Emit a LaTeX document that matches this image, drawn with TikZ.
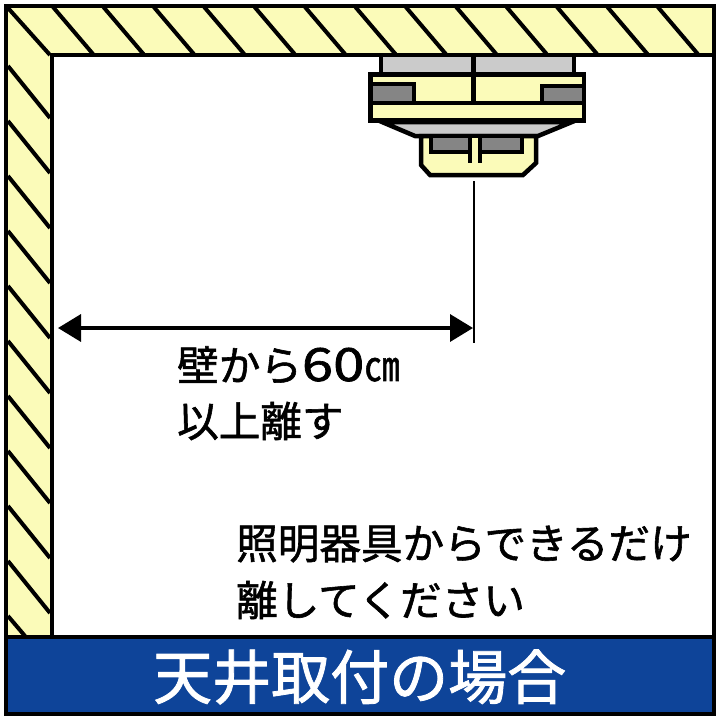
\documentclass[tikz,border=0pt]{standalone}
\usepackage{fontspec}
\usetikzlibrary{arrows.meta}
\newfontfamily\jpfont[AutoFakeBold=1.4]{Noto Sans CJK JP}
\definecolor{wallyellow}{HTML}{FBFBB9}
\definecolor{bandblue}{HTML}{0E4499}
\definecolor{partgray}{HTML}{CBCBCB}
\definecolor{darkgray}{HTML}{858585}
\tikzset{
 part/.style={draw=black,line width=4.5pt,line join=miter},
 hatch/.style={draw=black,line width=4pt},
 label/.style={anchor=west,inner sep=0pt,font=\jpfont\bfseries\fontsize{41.6}{41.6}\selectfont},
}
\begin{document}
\begin{tikzpicture}[x=1pt,y=-1pt]
 \useasboundingbox (0,0) rectangle (720,720);
 \fill[white](0,0) rectangle (720,720);
 \draw[part,fill=wallyellow](6,637)--(6,6)--(714,6)--(714,55)--(52,55)--(52,637);
 \foreach \x in {0,...,12}
  \draw[hatch](53+50.4*\x,7)--(93+50.4*\x,54);
 \draw[hatch](8,8)--(50,55);
 \foreach \y in {0,...,9}
  \draw[hatch](8,66+55*\y)--(50,118+55*\y);
 \draw[hatch](8,616)--(25,636);
 \draw[part](714,55)--(714,637);
 \draw[part,fill=bandblue](6,637) rectangle (714,714);
 \node[label,text=white,font=\jpfont\bfseries\fontsize{59}{59}\selectfont] (title) at (153,677) {天井取付の場合};
 % fixture
 \draw[part,fill=partgray](381,55) rectangle (574,74);
 \draw[part,fill=partgray](382,122)--(415,136)--(538,136)--(572,122)--cycle;
 \draw[part,fill=wallyellow](370.5,74.5) rectangle (584,120.5);
 \draw[part,fill=darkgray](370.5,84) rectangle (414,103);
 \draw[part,fill=darkgray](584,86) rectangle (542,103);
 \draw[part](370.5,103)--(584,103);
 \draw[part](473.5,55)--(473.5,103);
 \draw[part,fill=wallyellow](421,136)--(421,165)--(430,175)--(523,175)--(536,163)--(536,136)--cycle;
 \draw[part,fill=darkgray](431,136) rectangle (522,152);
 \fill[wallyellow](470,138) rectangle (480,155);
 \draw[part](470,136)--(470,163);
 \draw[part](480,136)--(480,163);
 % distance
 \coordinate (fixturetop) at (474,181);
 \coordinate (fixturebottom) at (474,343);
 \coordinate (wall) at (58,328);
 \coordinate (center) at (473,328);
 \draw[line width=2.5pt](fixturetop)--(fixturebottom);
 \draw[{Triangle[length=23pt,width=27pt]}-{Triangle[length=23pt,width=27pt]},line width=3.5pt](wall)--(center);
 \node[label] (dist1) at (177,365) {壁から\scalebox{1.35}[1.1]{60}\scalebox{0.85}[1]{㎝}};
 \node[label] (dist2) at (177,421) {以上離す};
 \node[label] (away1) at (236,544) {照明器具からできるだけ};
 \node[label] (away2) at (236,600) {離してください};
\end{tikzpicture}
\end{document}
